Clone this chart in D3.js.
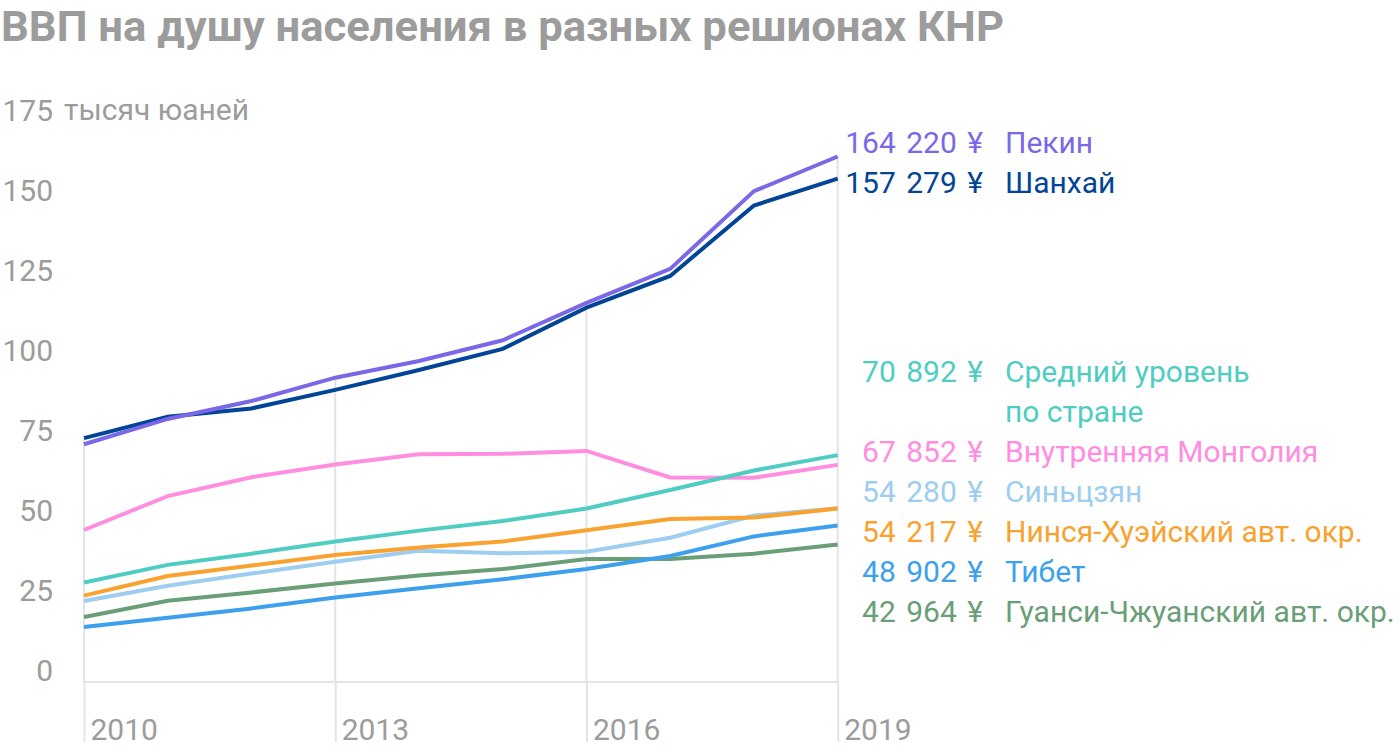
<!DOCTYPE html>
<html><head><meta charset="utf-8">
<script src="https://cdn.jsdelivr.net/npm/d3@7"></script>
<style>
body{margin:0;background:#fff;}
svg{display:block;font-family:Roboto,"Noto Sans",sans-serif;}
</style></head><body>
<svg id="chart" width="1400" height="752"></svg>
<script>
// ---- data (thousand yuan) ----
const years = [2010, 2011, 2012, 2013, 2014, 2015, 2016, 2017, 2018, 2019];
const beijing   = [74.3, 82.2, 87.8, 95.1, 100.3, 106.8, 118.5, 129.1, 153.4, 164.22];
const shanghai  = [76.2, 82.9, 85.5, 91.3, 97.5, 104.1, 117.0, 126.9, 148.9, 157.279];
const national  = [31.1, 36.6, 40.1, 43.9, 47.3, 50.3, 54.2, 60.0, 66.1, 70.892];
const innerMongolia = [47.5, 58.1, 64.0, 68.0, 71.2, 71.3, 72.2, 63.9, 63.8, 67.852];
const xinjiang  = [25.3, 30.1, 33.9, 37.6, 41.0, 40.2, 40.7, 45.1, 52.0, 54.28];
const ningxia   = [27.0, 33.1, 36.4, 39.7, 42.0, 43.9, 47.4, 50.9, 51.4, 54.217];
const tibet     = [17.2, 20.1, 23.0, 26.4, 29.3, 32.1, 35.3, 39.4, 45.5, 48.902];
const guangxi   = [20.3, 25.4, 28.0, 30.8, 33.3, 35.3, 38.4, 38.4, 40.1, 42.964];

const regionNames = ["Пекин", "Шанхай", "Средний уровень|по стране", "Внутренняя Монголия",
  "Синьцзян", "Нинся-Хуэйский авт. окр.", "Тибет", "Гуанси-Чжуанский авт. окр."];
const finalValues = [164220, 157279, 70892, 67852, 54280, 54217, 48902, 42964];
const yTicks = [0, 25, 50, 75, 100, 125, 150, 175];
const xTicks = [2010, 2013, 2016, 2019];
const yUnit = "тысяч юаней";
const titleText = "ВВП на душу населения в разных решионах КНР";

// ---- styles ----
const seriesValues = [beijing, shanghai, national, innerMongolia, xinjiang, ningxia, tibet, guangxi];
const colors = ["#7b68e6", "#024495", "#4fcdc2", "#ff8de0", "#9dcdf0", "#f9a22f", "#3da0ec", "#6a9e77"];
const drawOrder = [7, 6, 4, 5, 3, 2, 1, 0];
const grey = "#9c9c9c", gridCol = "#e4e4e4";

const svg = d3.select("#chart");
const x = d3.scaleLinear().domain([2010, 2019]).range([84, 837.7]);
const y = d3.scaleLinear().domain([0, 175]).range([682, 122]);

// title
svg.append("text").attr("x", 1).attr("y", 41)
  .attr("font-size", 42).attr("font-weight", 700).attr("fill", grey)
  .attr("textLength", 1003).attr("lengthAdjust", "spacingAndGlyphs")
  .text(titleText);

// vertical gridlines: from top series value down to baseline
xTicks.forEach(t => {
  const i = years.indexOf(t);
  const top = d3.max(seriesValues, s => s[i]);
  svg.append("line").attr("x1", x(t)).attr("x2", x(t))
    .attr("y1", y(top)).attr("y2", y(0))
    .attr("stroke", gridCol).attr("stroke-width", 2);
});
// baseline
svg.append("line").attr("x1", x(2010)).attr("x2", x(2019))
  .attr("y1", y(0)).attr("y2", y(0)).attr("stroke", gridCol).attr("stroke-width", 2);

// x axis
const xAxis = svg.append("g").attr("transform", `translate(0,${y(0)})`)
  .call(d3.axisBottom(x).tickValues(xTicks).tickSize(60).tickFormat(d3.format("d")));
xAxis.select(".domain").remove();
xAxis.selectAll(".tick line").attr("stroke", gridCol).attr("stroke-width", 2);
xAxis.selectAll(".tick text").attr("text-anchor", "start").attr("x", 6).attr("y", 58).attr("dy", 0)
  .attr("font-size", 30).attr("font-family", "Roboto").attr("fill", grey);

// y axis
const yAxis = svg.append("g").attr("transform", "translate(53,0)")
  .call(d3.axisLeft(y).tickValues(yTicks).tickSize(0));
yAxis.select(".domain").remove();
yAxis.selectAll(".tick text").attr("x", 0).attr("dy", 0).attr("y", -2)
  .attr("text-anchor", "end").attr("font-size", 30).attr("font-family", "Roboto").attr("fill", grey);
svg.append("text").attr("x", 64).attr("y", y(175) - 2).attr("font-size", 30)
  .attr("fill", grey).text(yUnit);

// lines
const line = d3.line().x((d, i) => x(years[i])).y(d => y(d));
drawOrder.forEach(k => {
  svg.append("path").datum(seriesValues[k]).attr("d", line)
    .attr("fill", "none").attr("stroke", colors[k]).attr("stroke-width", 4)
    .attr("stroke-linejoin", "miter");
});

// labels
const fmt = v => d3.format(",")(v).replace(/,/g, " ") + " ¥";
let row = 0;
regionNames.forEach((name, k) => {
  const base = k < 2 ? 153 + k * 40 : 382 + row * 40;
  const lines = name.split("|");
  svg.append("text").attr("x", 983).attr("y", base).attr("text-anchor", "end")
    .attr("font-size", 30).attr("fill", colors[k]).attr("word-spacing", 3).text(fmt(finalValues[k]));
  lines.forEach((ln, j) => {
    svg.append("text").attr("x", 1005).attr("y", base + j * 40)
      .attr("font-size", 30).attr("fill", colors[k]).text(ln);
  });
  if (k >= 2) row += lines.length;
});
</script>
</body></html>
